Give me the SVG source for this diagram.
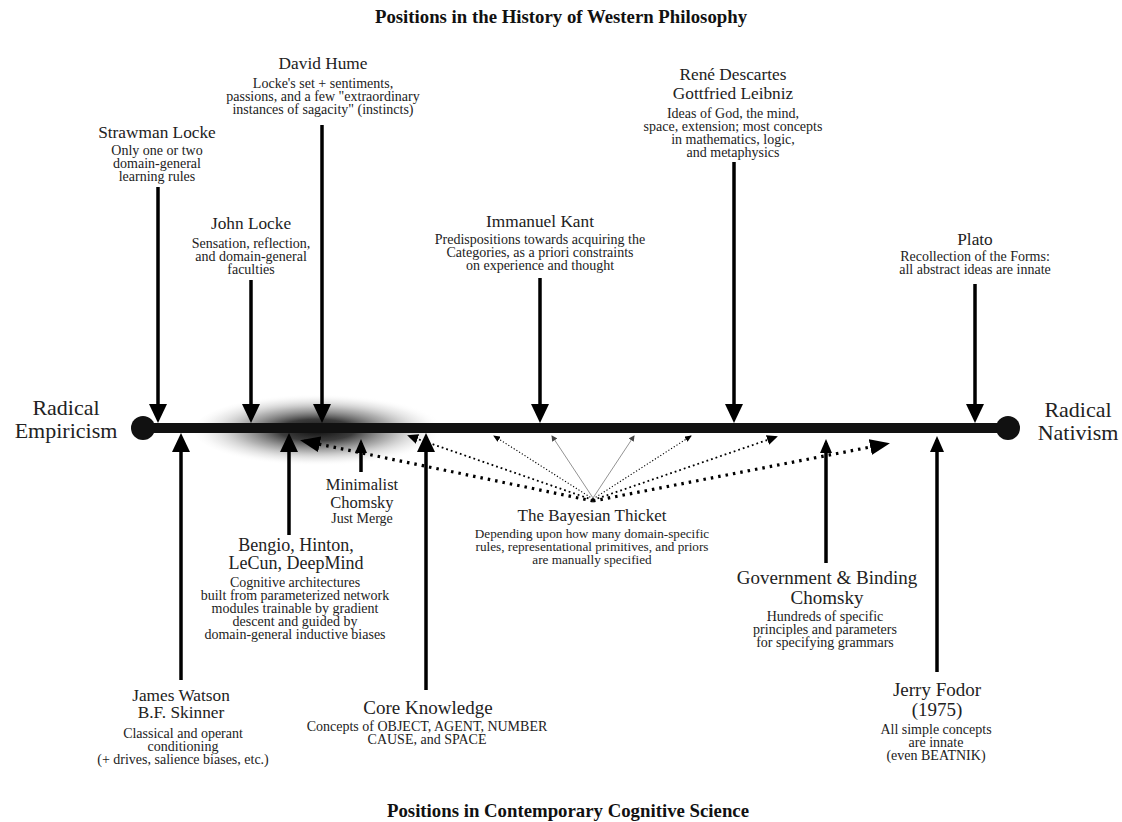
<svg xmlns="http://www.w3.org/2000/svg" width="1122" height="822" viewBox="0 0 1122 822">
<defs>
<style>
text{font-family:"Liberation Serif","DejaVu Serif",serif;fill:#222;text-anchor:middle}
.title{font-weight:bold;font-size:18.8px;fill:#111}
.side{font-size:22px}
.name{font-size:17.3px}
.big{font-size:19px}
.mid{font-size:17px}
.sub{font-size:14px}
.arr{stroke:#000;stroke-width:3.5;fill:none}
.dot1{stroke:#000;stroke-width:3.2;stroke-dasharray:2.5 5;fill:none}
.dot2{stroke:#000;stroke-width:1.8;stroke-dasharray:1.8 3;fill:none}
.dot3{stroke:#000;stroke-width:1.1;stroke-dasharray:1.2 2;fill:none}
.thin{stroke:#777;stroke-width:0.8;fill:none}
</style>
<marker id="hL" markerUnits="userSpaceOnUse" markerWidth="20" markerHeight="18" refX="15" refY="9" orient="auto"><path d="M0,0 L19,9 L0,18 z" fill="#000"/></marker>
<marker id="hM" markerUnits="userSpaceOnUse" markerWidth="16" markerHeight="14" refX="12" refY="7" orient="auto"><path d="M0,0 L16,7 L0,14 z" fill="#000"/></marker>
<marker id="hS" markerUnits="userSpaceOnUse" markerWidth="14" markerHeight="12" refX="10" refY="6" orient="auto"><path d="M0,0 L14,6 L0,12 z" fill="#000"/></marker>
<marker id="dL" markerUnits="userSpaceOnUse" markerWidth="20" markerHeight="16" refX="16" refY="8" orient="auto"><path d="M0,0 L20,8 L0,16 z" fill="#000"/></marker>
<marker id="dM" markerUnits="userSpaceOnUse" markerWidth="11" markerHeight="10" refX="9" refY="5" orient="auto"><path d="M0,0 L11,5 L0,10 z" fill="#000"/></marker>
<marker id="dS" markerUnits="userSpaceOnUse" markerWidth="7" markerHeight="6" refX="6" refY="3" orient="auto"><path d="M0,0 L7,3 L0,6 z" fill="#000"/></marker>
<marker id="dT" markerUnits="userSpaceOnUse" markerWidth="6" markerHeight="6" refX="5" refY="3" orient="auto"><path d="M0,0 L6,3 L0,6 z" fill="#444"/></marker>
<radialGradient id="haze" cx="0.48" cy="0.5" r="0.5">
<stop offset="0" stop-color="#000" stop-opacity="0.95"/>
<stop offset="0.3" stop-color="#1a1a1a" stop-opacity="0.85"/>
<stop offset="0.6" stop-color="#666" stop-opacity="0.5"/>
<stop offset="0.85" stop-color="#bbb" stop-opacity="0.2"/>
<stop offset="1" stop-color="#fff" stop-opacity="0"/>
</radialGradient>
</defs>
<rect width="1122" height="822" fill="#fff"/>

<text class="title" x="561" y="23">Positions in the History of Western Philosophy</text>
<text class="title" x="568" y="817">Positions in Contemporary Cognitive Science</text>

<ellipse id="haze-area" cx="322" cy="430" rx="128" ry="36" fill="url(#haze)"/>

<g id="axis">
<line x1="143" y1="428" x2="1008" y2="428" stroke="#111" stroke-width="10"/>
<circle cx="143" cy="428" r="12" fill="#111"/>
<circle cx="1008" cy="428" r="12" fill="#111"/>
</g>

<g id="connectors">
<line class="arr" x1="158" y1="187" x2="158" y2="419" marker-end="url(#hL)"/>
<line class="arr" x1="251" y1="280" x2="251" y2="419" marker-end="url(#hL)"/>
<line class="arr" x1="322" y1="125" x2="322" y2="419" marker-end="url(#hL)"/>
<line class="arr" x1="540" y1="278" x2="540" y2="419" marker-end="url(#hL)"/>
<line class="arr" x1="734" y1="162" x2="734" y2="419" marker-end="url(#hL)"/>
<line class="arr" x1="975" y1="284" x2="975" y2="419" marker-end="url(#hL)"/>

<line class="arr" x1="181" y1="680" x2="181" y2="437" marker-end="url(#hL)"/>
<line class="arr" x1="289" y1="535" x2="289" y2="437" marker-end="url(#hL)"/>
<line class="arr" x1="361" y1="472" x2="361" y2="443" stroke-width="2.5" marker-end="url(#hS)"/>
<line class="arr" x1="426" y1="690" x2="426" y2="437" marker-end="url(#hL)"/>
<line class="arr" x1="826" y1="563" x2="826" y2="443" stroke-width="2.5" marker-end="url(#hS)"/>
<line class="arr" x1="937" y1="672" x2="937" y2="440" stroke-width="3" marker-end="url(#hM)"/>

<line class="dot1" x1="593" y1="501" x2="304" y2="441" marker-end="url(#dL)"/>
<line class="dot1" x1="593" y1="501" x2="886" y2="444" marker-end="url(#dL)"/>
<line class="dot2" x1="593" y1="500" x2="409" y2="436" marker-end="url(#dM)"/>
<line class="dot2" x1="593" y1="500" x2="776" y2="437" marker-end="url(#dM)"/>
<line class="dot3" x1="593" y1="499" x2="494" y2="436" marker-end="url(#dS)"/>
<line class="dot3" x1="593" y1="499" x2="691" y2="436" marker-end="url(#dS)"/>
<line class="thin" x1="593" y1="498" x2="552" y2="436" marker-end="url(#dT)"/>
<line class="thin" x1="593" y1="498" x2="634" y2="436" marker-end="url(#dT)"/>
</g>

<g id="radical-empiricism">
<text class="side" x="66" y="415">Radical</text>
<text class="side" x="66" y="438">Empiricism</text>
</g>
<g id="radical-nativism">
<text class="side" x="1078" y="417">Radical</text>
<text class="side" x="1078" y="440">Nativism</text>
</g>

<g id="strawman-locke">
<text class="name" x="157" y="138">Strawman Locke</text>
<text class="sub" x="157" y="155">Only one or two</text>
<text class="sub" x="157" y="168">domain-general</text>
<text class="sub" x="157" y="181">learning rules</text>
</g>
<g id="john-locke">
<text class="name" x="251" y="229">John Locke</text>
<text class="sub" x="251" y="248">Sensation, reflection,</text>
<text class="sub" x="251" y="261">and domain-general</text>
<text class="sub" x="251" y="274">faculties</text>
</g>
<g id="david-hume">
<text class="name" x="323" y="69">David Hume</text>
<text class="sub" x="323" y="88">Locke's set + sentiments,</text>
<text class="sub" x="323" y="101">passions, and a few "extraordinary</text>
<text class="sub" x="323" y="114">instances of sagacity" (instincts)</text>
</g>
<g id="immanuel-kant">
<text class="name" x="540" y="227">Immanuel Kant</text>
<text class="sub" x="540" y="244">Predispositions towards acquiring the</text>
<text class="sub" x="540" y="257">Categories, as a priori constraints</text>
<text class="sub" x="540" y="270">on experience and thought</text>
</g>
<g id="descartes-leibniz">
<text class="name" x="733" y="80">René Descartes</text>
<text class="name" x="733" y="99">Gottfried Leibniz</text>
<text class="sub" x="733" y="118">Ideas of God, the mind,</text>
<text class="sub" x="733" y="131">space, extension; most concepts</text>
<text class="sub" x="733" y="144">in mathematics, logic,</text>
<text class="sub" x="733" y="157">and metaphysics</text>
</g>
<g id="plato">
<text class="name" x="975" y="245">Plato</text>
<text class="sub" x="975" y="261">Recollection of the Forms:</text>
<text class="sub" x="975" y="274">all abstract ideas are innate</text>
</g>

<g id="minimalist-chomsky">
<text style="font-size:16.5px" x="362" y="490">Minimalist</text>
<text style="font-size:16.5px" x="362" y="508">Chomsky</text>
<text class="sub" x="362" y="523">Just Merge</text>
</g>
<g id="bayesian-thicket">
<text class="mid" x="592" y="521">The Bayesian Thicket</text>
<text class="sub" style="font-size:13.2px" x="592" y="538">Depending upon how many domain-specific</text>
<text class="sub" style="font-size:13.2px" x="592" y="551">rules, representational primitives, and priors</text>
<text class="sub" style="font-size:13.2px" x="592" y="564">are manually specified</text>
</g>
<g id="bengio-hinton-lecun">
<text style="font-size:18px" x="296" y="551">Bengio, Hinton,</text>
<text style="font-size:18px" x="296" y="569">LeCun, DeepMind</text>
<text class="sub" x="295" y="587">Cognitive architectures</text>
<text class="sub" x="295" y="600">built from parameterized network</text>
<text class="sub" x="295" y="613">modules trainable by gradient</text>
<text class="sub" x="295" y="626">descent and guided by</text>
<text class="sub" x="295" y="639">domain-general inductive biases</text>
</g>
<g id="government-binding">
<text class="big" x="827" y="584">Government &amp; Binding</text>
<text class="big" x="827" y="604">Chomsky</text>
<text class="sub" x="825" y="621">Hundreds of specific</text>
<text class="sub" x="825" y="634">principles and parameters</text>
<text class="sub" x="825" y="647">for specifying grammars</text>
</g>
<g id="watson-skinner">
<text class="name" x="181" y="701">James Watson</text>
<text class="name" x="181" y="718">B.F. Skinner</text>
<text class="sub" x="183" y="738">Classical and operant</text>
<text class="sub" x="183" y="751">conditioning</text>
<text class="sub" x="183" y="764">(+ drives, salience biases, etc.)</text>
</g>
<g id="core-knowledge">
<text class="big" x="428" y="714">Core Knowledge</text>
<text class="sub" x="427" y="731">Concepts of OBJECT, AGENT, NUMBER</text>
<text class="sub" x="427" y="744">CAUSE, and SPACE</text>
</g>
<g id="jerry-fodor">
<text class="big" x="937" y="696">Jerry Fodor</text>
<text class="big" x="937" y="716">(1975)</text>
<text class="sub" x="936" y="734">All simple concepts</text>
<text class="sub" x="936" y="747">are innate</text>
<text class="sub" x="936" y="760">(even BEATNIK)</text>
</g>
</svg>
